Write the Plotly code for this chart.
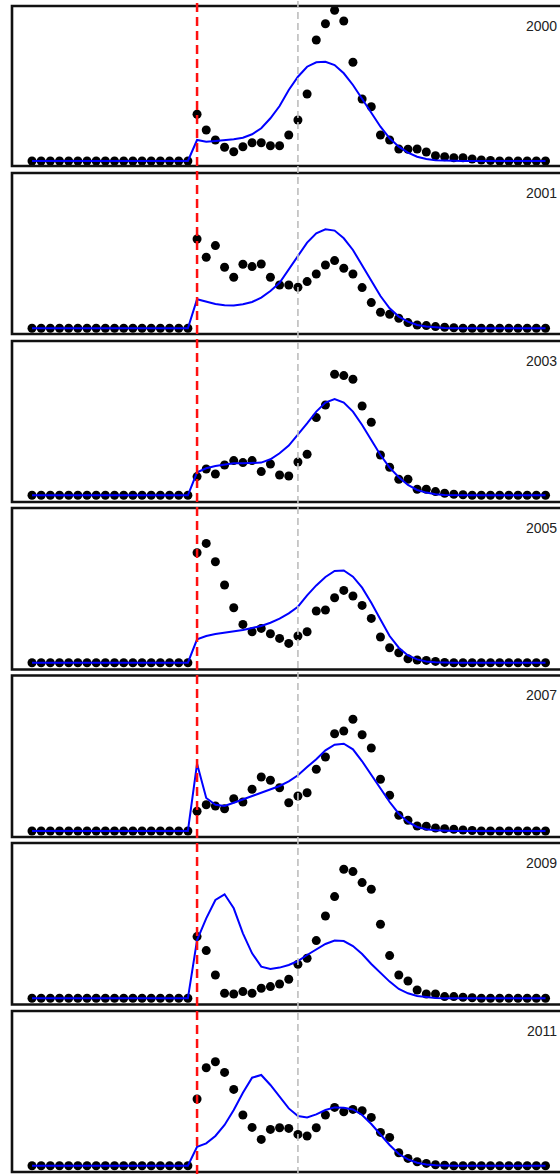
import plotly.graph_objects as go

W, H = 560, 1174

years = ["2000", "2001", "2003", "2005", "2007", "2009", "2011"]
x_idx = list(range(57))
event_idx = 18
ref_idx = 29

obs_2000 = [0, 0, 0, 0, 0, 0, 0, 0, 0, 0, 0, 0, 0, 0, 0, 0, 0, 0,
            46.7, 31, 21, 13.7, 9.3, 14.3, 18.3, 18.3, 15.3, 15.3, 26, 41, 67, 121, 137.3, 150.7, 140, 98.7,
            62, 54.3, 26, 21, 12, 11.7, 12, 9, 5.3, 4.3, 3.3, 3.3, 2, 1, 0.5, 0, 0, 0, 0, 0, 0]
fit_2000 = [0, 0, 0, 0, 0, 0, 0, 0, 0, 0, 0, 0, 0, 0, 0, 0, 0, 0,
            21, 19.3, 20, 20.7, 21.7, 23.3, 26.7, 32.7, 42.7, 55, 71, 84.3, 94.3, 98.7, 99.3, 96, 87.7, 76,
            62.7, 48.3, 34.3, 22.7, 14.3, 8.3, 4.3, 2, 0.7, 0.3, 0, 0, 0, 0, 0, 0, 0, 0, 0, 0, 0]

obs_2001 = [0, 0, 0, 0, 0, 0, 0, 0, 0, 0, 0, 0, 0, 0, 0, 0, 0, 0,
            89.3, 71, 82.7, 61, 51, 64, 61.7, 64.3, 51, 43.3, 43.3, 41, 46.7, 54.3, 63.3, 67.7, 60, 54.3,
            40.7, 25.7, 16, 14, 10, 5.7, 3.3, 2.7, 1.7, 1, 0.5, 0, 0, 0, 0, 0, 0, 0, 0, 0, 0]
fit_2001 = [0, 0, 0, 0, 0, 0, 0, 0, 0, 0, 0, 0, 0, 0, 0, 0, 0, 0,
            29, 26.7, 24.3, 23, 22.7, 24, 26.3, 30.7, 37.3, 45.5, 59, 73.3, 85.7, 95, 99, 97.7, 90, 78.3,
            63.3, 47.7, 32.3, 20, 11.7, 6.7, 3.3, 1.7, 0.7, 0.3, 0, 0, 0, 0, 0, 0, 0, 0, 0, 0, 0]

obs_2003 = [0, 0, 0, 0, 0, 0, 0, 0, 0, 0, 0, 0, 0, 0, 0, 0, 0, 0,
            18.7, 26.3, 21.3, 30.3, 34.7, 32.7, 34.7, 23.7, 31.3, 20.3, 19.3, 33.3, 41, 77.7, 90.3, 121, 119.7, 116,
            89.3, 73, 40.3, 28, 16, 16, 6, 6, 3.7, 2, 1, 0.5, 0, 0, 0, 0, 0, 0, 0, 0, 0]
fit_2003 = [0, 0, 0, 0, 0, 0, 0, 0, 0, 0, 0, 0, 0, 0, 0, 0, 0, 0,
            23, 27, 29.3, 31, 32, 32, 32, 32.7, 36, 42, 49.7, 60.3, 72, 83.7, 92.7, 96.3, 92.7, 83.7,
            70.3, 55.3, 40.3, 27.7, 18, 10.3, 5.3, 2.7, 1, 0.3, 0, 0, 0, 0, 0, 0, 0, 0, 0, 0, 0]

obs_2005 = [0, 0, 0, 0, 0, 0, 0, 0, 0, 0, 0, 0, 0, 0, 0, 0, 0, 0,
            110, 119.3, 101, 77.7, 55, 38.3, 31, 34.3, 29, 24.3, 19.3, 26.7, 31, 51.7, 52.7, 65, 72.3, 66.7,
            57.3, 44.3, 25.7, 15, 10, 4, 2.7, 2.3, 1.3, 0.3, 0, 0, 0, 0, 0, 0, 0, 0, 0, 0, 0]
fit_2005 = [0, 0, 0, 0, 0, 0, 0, 0, 0, 0, 0, 0, 0, 0, 0, 0, 0, 0,
            23.3, 26.7, 28.7, 30, 31.3, 32.7, 34.7, 36.7, 40, 44, 49.3, 56, 67.3, 77.3, 85.7, 91.7, 92.3, 86,
            75, 60, 43.3, 26.7, 15, 7.3, 3.3, 1.3, 0.5, 0, 0, 0, 0, 0, 0, 0, 0, 0, 0, 0, 0]

obs_2007 = [0, 0, 0, 0, 0, 0, 0, 0, 0, 0, 0, 0, 0, 0, 0, 0, 0, 0,
            19.7, 26.3, 25, 22.3, 32.3, 29, 41.7, 54, 50.7, 43.3, 28.3, 35, 38.3, 61.7, 74, 97.3, 100, 111.7,
            96.3, 83, 51.7, 35.7, 15.7, 10.7, 5, 4.7, 3, 2.3, 1.7, 1, 0.5, 0, 0, 0, 0, 0, 0, 0, 0]
fit_2007 = [0, 0, 0, 0, 0, 0, 0, 0, 0, 0, 0, 0, 0, 0, 0, 0, 0, 0,
            67.3, 33, 26.3, 25, 28.3, 31.7, 35, 38, 41.3, 45, 49.7, 55.7, 64, 71.7, 80.7, 86.3, 87.3, 81.7,
            69.7, 55.7, 41.7, 29, 17.3, 9, 4, 1.7, 0.7, 0, 0, 0, 0, 0, 0, 0, 0, 0, 0, 0, 0]

obs_2009 = [0, 0, 0, 0, 0, 0, 0, 0, 0, 0, 0, 0, 0, 0, 0, 0, 0, 0,
            61.7, 47.7, 23.3, 5, 4.3, 6.7, 5, 10, 11.7, 14.3, 19, 34, 40, 57.7, 82.3, 101.7, 129, 126.7,
            115.7, 109, 74, 42.7, 23.3, 17.3, 8.3, 4.3, 4.3, 1.7, 1.7, 1, 0.5, 0, 0, 0, 0, 0, 0, 0, 0]
fit_2009 = [0, 0, 0, 0, 0, 0, 0, 0, 0, 0, 0, 0, 0, 0, 0, 0, 0, 0,
            58.3, 80, 98.3, 104, 90, 65, 45, 31.7, 29.3, 30.7, 33.3, 37.3, 43.3, 49, 54.3, 57.7, 57.3, 52.3,
            44.3, 34.3, 25, 16.7, 9.3, 5, 2.3, 1, 0.3, 0, 0, 0, 0, 0, 0, 0, 0, 0, 0, 0, 0]

obs_2011 = [0, 0, 0, 0, 0, 0, 0, 0, 0, 0, 0, 0, 0, 0, 0, 0, 0, 0,
            66.7, 98, 104, 93.3, 76.3, 50.7, 38.3, 26.3, 36.3, 38, 37.3, 31.3, 29.7, 38, 50.7, 58.3, 54, 56.3,
            55, 48.3, 33.3, 28.3, 13, 7.3, 4, 2.3, 1, 0.5, 0, 0, 0, 0, 0, 0, 0, 0, 0, 0, 0]
fit_2011 = [0, 0, 0, 0, 0, 0, 0, 0, 0, 0, 0, 0, 0, 0, 0, 0, 0, 0,
            19, 22.3, 29.7, 40.7, 55.7, 73, 88, 90.7, 80.7, 69, 57.3, 49.7, 48.3, 51.3, 55.7, 58.3, 58, 56.3,
            50.7, 41.7, 30.7, 20.7, 11.7, 6.3, 3, 1.3, 0.5, 0, 0, 0, 0, 0, 0, 0, 0, 0, 0, 0, 0]

observed = [obs_2000, obs_2001, obs_2003, obs_2005, obs_2007, obs_2009, obs_2011]
fitted = [fit_2000, fit_2001, fit_2003, fit_2005, fit_2007, fit_2009, fit_2011]

# layout geometry (pixels)
tops = [6, 173, 341, 508, 675.5, 843, 1011]
bottoms = [166, 334, 502, 669.5, 837, 1004.5, 1172]
baselines = [161, 328.3, 495.3, 662.7, 831, 998.3, 1165.7]
left_px = 12
x0_px, dx_px = 32, 9.17

x_range = [(left_px - x0_px) / dx_px, (W - x0_px) / dx_px]

fig = go.Figure()
shapes = []
annotations = []

def py(p):
    return 1 - p / H

for k in range(7):
    ax = "" if k == 0 else str(k + 1)
    T, B, b0 = tops[k], bottoms[k], baselines[k]
    fig.add_trace(go.Scatter(
        x=x_idx, y=observed[k], mode="markers",
        marker=dict(color="black", size=9, line=dict(width=0)),
        xaxis="x" + ax, yaxis="y" + ax, showlegend=False, hoverinfo="skip"))
    fig.add_trace(go.Scatter(
        x=x_idx, y=fitted[k], mode="lines",
        line=dict(color="#0000ff", width=2),
        xaxis="x" + ax, yaxis="y" + ax, showlegend=False, hoverinfo="skip"))
    fig.update_layout(**{
        "xaxis" + ax: dict(domain=[left_px / W, 1], range=x_range, visible=False,
                           anchor="y" + ax, fixedrange=True),
        "yaxis" + ax: dict(domain=[py(B), py(T)], range=[b0 - B, b0 - T], visible=False,
                           anchor="x" + ax, fixedrange=True),
    })
    shapes.append(dict(
        type="path", xref="paper", yref="paper",
        path=f"M 1.05 {py(T)} L {left_px / W} {py(T)} L {left_px / W} {py(B)} L 1.05 {py(B)}",
        line=dict(color="#111111", width=2.6), layer="above"))
    annotations.append(dict(
        text=years[k], xref="paper", yref="paper", x=559 / W, y=py(T + 19.5),
        xanchor="right", yanchor="middle", showarrow=False,
        font=dict(family="Liberation Sans, Arial, sans-serif", size=14, color="#222222")))

shapes.append(dict(type="line", xref="x", yref="paper", x0=ref_idx, x1=ref_idx, y0=0, y1=1,
                   line=dict(color="#bdbdbd", width=1.6, dash="7px,4px"), layer="above"))
shapes.append(dict(type="line", xref="x", yref="paper", x0=event_idx, x1=event_idx, y0=0, y1=1,
                   line=dict(color="#ff1010", width=2.5, dash="9px,5px"), layer="above"))

fig.update_layout(
    width=W, height=H,
    margin=dict(l=0, r=0, t=0, b=0),
    paper_bgcolor="white", plot_bgcolor="white",
    shapes=shapes, annotations=annotations,
)

fig.write_html("out.html", config={"displayModeBar": False})
